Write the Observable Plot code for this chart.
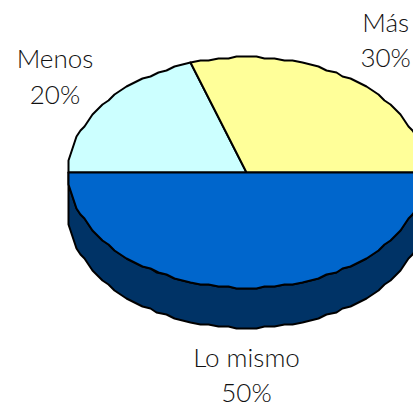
<!DOCTYPE html>
<html>
<head>
<meta charset="utf-8">
<style>html,body{margin:0;padding:0;background:#fff;overflow:hidden}svg{display:block}</style>
<script src="https://cdn.jsdelivr.net/npm/d3@7"></script>
<script src="https://cdn.jsdelivr.net/npm/@observablehq/plot@0.6"></script>
</head>
<body>
<script>
const categories = ["Menos", "Más", "Lo mismo"];
const shares = [20, 30, 50];
const colors = ["#CCFFFF", "#FFFF99", "#0066CC"];
const sideColor = "#003366";

// Pie geometry in unit-ellipse coordinates
const W = 413, H = 406, cx = 246, cy = 172, rx = 178, ry = 115.5, depth = 40 / ry;
const step = 3;
const gridX = 2 / rx, gridY = 2 / ry; // the source outline is coarse: snap to a 2px grid
const snap = (v, g) => Math.round(v / g) * g;
const total = d3.sum(shares);
const pt = (deg, dy = 0) => {
  const a = deg * Math.PI / 180;
  return {x: snap(Math.cos(a), gridX), y: snap(Math.sin(a), gridY) + dy};
};
const arc = (from, to, dy = 0) => {
  const n = Math.max(1, Math.round(Math.abs(to - from) / step));
  return d3.range(n + 1).map(i => pt(from + (to - from) * i / n, dy));
};

// Slices run clockwise from the left end of the ellipse
let start = 180;
const wedges = [], labels = [];
categories.forEach((c, i) => {
  const end = start - shares[i] / total * 360;
  const poly = [{x: 0, y: 0}, ...arc(start, end), {x: 0, y: 0}];
  poly.forEach(p => wedges.push({...p, c}));
  const a = (start + end) / 2 * Math.PI / 180;
  labels.push({
    x: 1.33 * Math.cos(a),
    y: 1.44 * Math.sin(a) - (Math.sin(a) < 0 ? 0.3 : 0),
    text: `${c}\n${shares[i]}%`
  });
  start = end;
});

// Visible rim: the lower half of the ellipse pushed down by the depth
const rim = [...arc(180, 360), ...arc(360, 180, -depth), pt(180)];

const chart = Plot.plot({
  width: W, height: H,
  margin: 0,
  x: {axis: null, domain: [-cx / rx, (W - cx) / rx], range: [0, W]},
  y: {axis: null, domain: [(cy - H) / ry, cy / ry], range: [H, 0]},
  color: {domain: categories, range: colors},
  style: {background: "#fff"},
  marks: [
    Plot.line(rim, {x: "x", y: "y", fill: sideColor, stroke: "#000", strokeWidth: 2, strokeLinejoin: "round"}),
    Plot.line(wedges, {x: "x", y: "y", z: "c", fill: "c", stroke: "#000", strokeWidth: 2, strokeLinejoin: "round"}),
    Plot.text(labels, {
      x: "x", y: "y", text: "text",
      fontFamily: "Lato, 'Open Sans', sans-serif", fontWeight: 300, fontSize: 26,
      lineHeight: 1.35, fill: "#111"
    })
  ]
});
document.body.appendChild(chart);
</script>
</body>
</html>
